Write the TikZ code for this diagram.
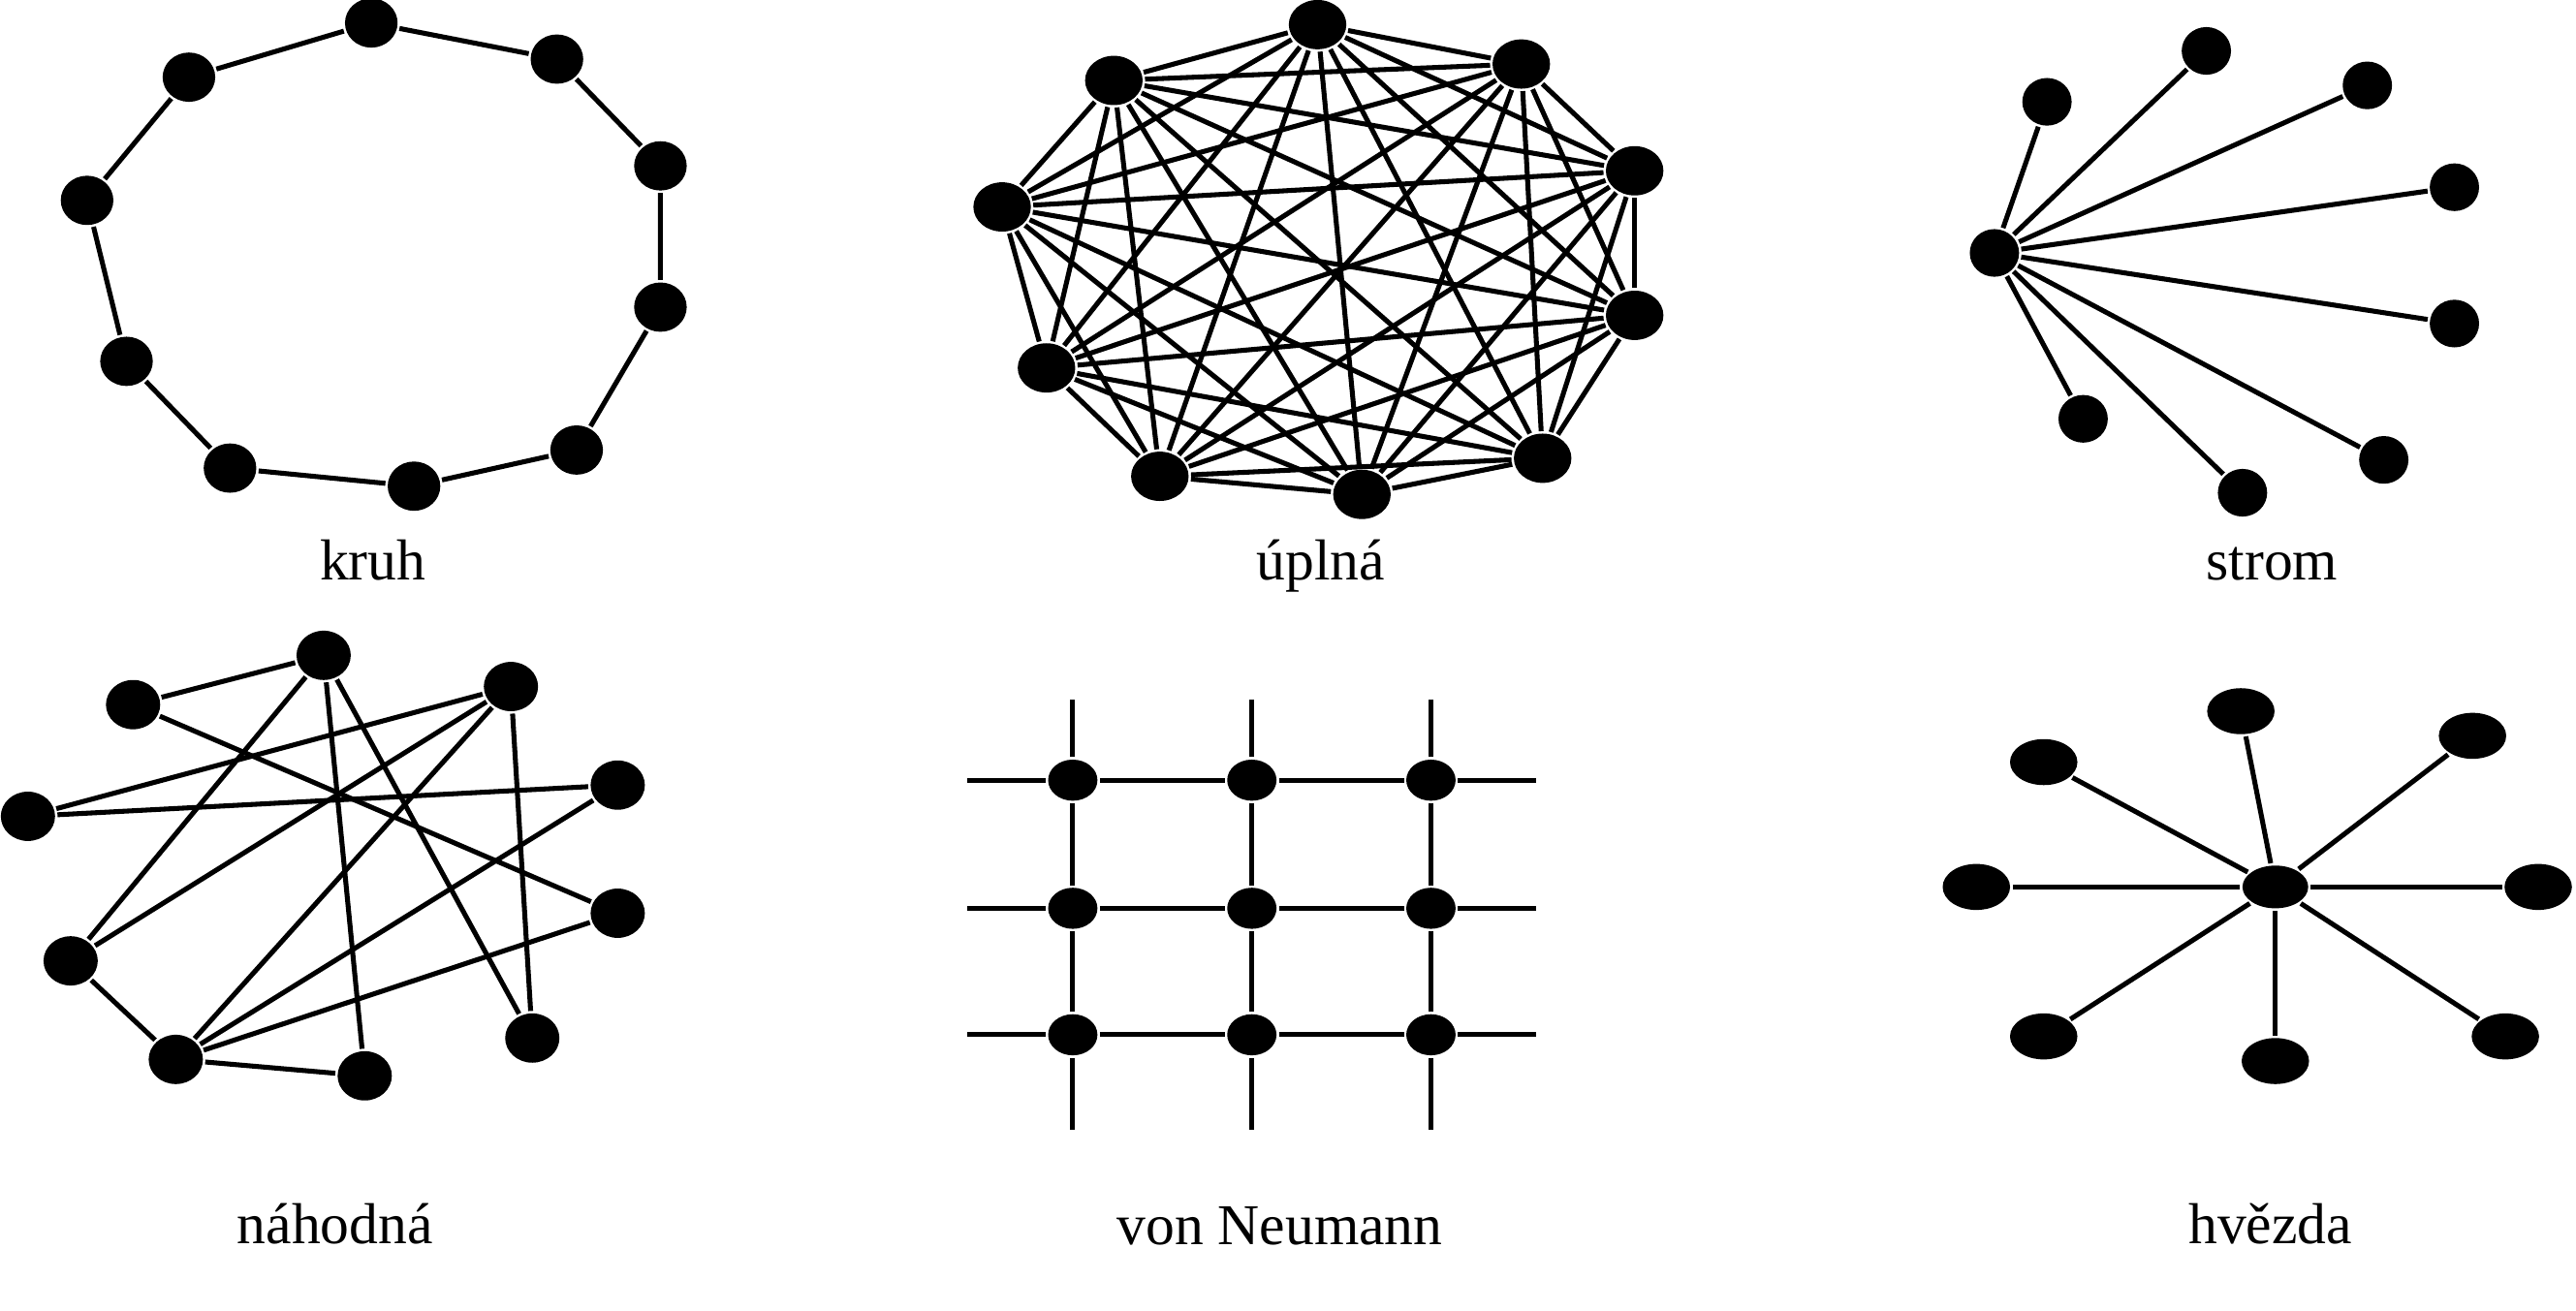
\documentclass[tikz,border=0pt]{standalone}
\usepackage{fontspec}
\setmainfont{Liberation Serif}
\usetikzlibrary{shapes.geometric}

\tikzset{
	vtx/.style={ellipse, fill=black, draw=none, inner sep=0pt},
	ringvtx/.style={vtx, minimum width=3.2mm, minimum height=3.0mm},
	fullvtx/.style={vtx, minimum width=3.5mm, minimum height=3.0mm},
	treevtx/.style={vtx, minimum width=3.0mm, minimum height=2.9mm},
	randvtx/.style={vtx, minimum width=3.3mm, minimum height=3.0mm},
	gridvtx/.style={vtx, minimum width=3.0mm, minimum height=2.5mm},
	starvtx/.style={vtx, minimum width=4.1mm, minimum height=2.8mm},
	caption/.style={anchor=base, inner sep=0pt, font=\fontsize{10}{12}\selectfont},
	edge/.style={line width=0.85pt}
}

\begin{document}
\begin{tikzpicture}[x=0.01cm, y=-0.01cm, edge]
	\useasboundingbox (0,0) rectangle (1568,798);

	% kruh
	\foreach \p [count=\i] in {(226,14),(339,36),(402,101),(402,187),(351,274),(252,296),(140,285),(77,220),(53,122),(115,47)}
		\node[ringvtx] (k\i) at \p {};
	\draw (k1) -- (k2) -- (k3) -- (k4) -- (k5) -- (k6) -- (k7) -- (k8) -- (k9) -- (k10) -- (k1);
	\node[caption] at (227,353) {kruh};

	% uplna
	\foreach \p [count=\i] in {(802,15),(926,39),(995,104),(995,192),(939,279),(829,301),(706,290),(637,224),(610,126),(678,49)}
		\node[fullvtx] (u\i) at \p {};
	\foreach \i in {1,...,9} {
		\pgfmathtruncatemacro\nxt{\i+1}
		\foreach \j in {\nxt,...,10}
			\draw (u\i) -- (u\j);
	}
	\node[caption] at (804,353) {úplná};

	% strom
	\node[treevtx] (s0) at (1214,154) {};
	\foreach \p [count=\i] in {(1246,62),(1343,31),(1441,52),(1494,114),(1494,197),(1451,280),(1365,300),(1268,255)} {
		\node[treevtx] (s\i) at \p {};
		\draw (s0) -- (s\i);
	}
	\node[caption] at (1383,353) {strom};

	% nahodna
	\node[randvtx] (na) at (197,399) {};
	\node[randvtx] (nb) at (81,429) {};
	\node[randvtx] (nc) at (311,418) {};
	\node[randvtx] (nd) at (17,497) {};
	\node[randvtx] (ne) at (376,478) {};
	\node[randvtx] (nf) at (376,556) {};
	\node[randvtx] (ng) at (43,585) {};
	\node[randvtx] (nh) at (107,645) {};
	\node[randvtx] (ni) at (222,655) {};
	\node[randvtx] (nj) at (324,632) {};
	\draw (nb) -- (na);
	\draw (nb) -- (nf);
	\draw (nd) -- (nc);
	\draw (nd) -- (ne);
	\draw (na) -- (ng);
	\draw (na) -- (ni);
	\draw (na) -- (nj);
	\draw (nc) -- (ng);
	\draw (nc) -- (nh);
	\draw (nc) -- (nj);
	\draw (ne) -- (nh);
	\draw (nf) -- (nh);
	\draw (ng) -- (nh);
	\draw (nh) -- (ni);
	\node[caption] at (204,757) {náhodná};

	% von Neumann
	\foreach \x [count=\c] in {653,762,871} {
		\foreach \y [count=\r] in {475,553,630}
			\node[gridvtx] (g\r\c) at (\x,\y) {};
		\coordinate (gt\c) at (\x,426);
		\coordinate (gb\c) at (\x,688);
	}
	\foreach \y [count=\r] in {475,553,630} {
		\coordinate (gl\r) at (589,\y);
		\coordinate (gr\r) at (935,\y);
	}
	\foreach \r in {1,2,3}
		\draw (gl\r) -- (g\r1) -- (g\r2) -- (g\r3) -- (gr\r);
	\foreach \c in {1,2,3}
		\draw (gt\c) -- (g1\c) -- (g2\c) -- (g3\c) -- (gb\c);
	\node[caption] at (779,758) {von Neumann};

	% hvezda
	\node[starvtx, minimum width=4.0mm, minimum height=2.6mm] (h0) at (1385,540) {};
	\foreach \p [count=\i] in {(1244,464),(1364,433),(1505,448),(1203,540),(1545,540),(1244,631),(1385,646),(1525,631)} {
		\node[starvtx] (h\i) at \p {};
		\draw (h0) -- (h\i);
	}
	\node[caption] at (1382,757) {hvězda};
\end{tikzpicture}
\end{document}
